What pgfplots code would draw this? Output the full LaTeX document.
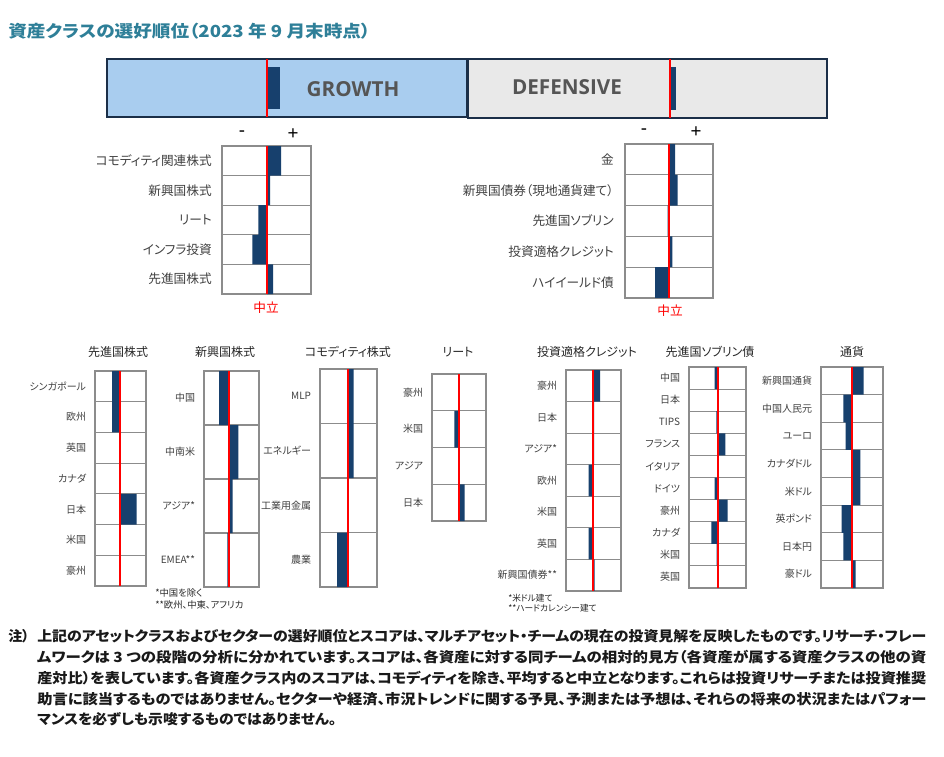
\documentclass[border=0pt]{standalone}
\usepackage{pgfplots}
\pgfplotsset{compat=1.18}
\usepackage{graphicx}
\usepackage{fontspec}
\setmainfont{Liberation Sans}
\newfontfamily\jp[RawFeature=+palt]{Noto Sans CJK JP}
\newfontfamily\osb{Open Sans}
\definecolor{navy}{HTML}{17406D}
\definecolor{growthblue}{HTML}{A9CDEF}
\definecolor{defgray}{HTML}{E9E9E9}
\definecolor{border}{HTML}{1B2F48}
\definecolor{gridgray}{HTML}{8C8C8C}
\definecolor{labelgray}{HTML}{404040}
\definecolor{titleteal}{HTML}{2E7F98}
\definecolor{boxtext}{HTML}{555555}
\newcommand\smlab{\jp\fontsize{7.5}{8}\selectfont}
\newcommand\midlab{\jp\fontsize{9.5}{10}\selectfont}
\pgfplotsset{
  panel/.style={
    scale only axis, anchor=north west, xbar, y dir=reverse, bar width=1,
    axis background/.style={fill=white},
    axis line style={draw=gridgray, line width=0.8pt},
    xtick=\empty,
    major tick length=0pt, minor tick length=0pt,
    yminorgrids=true, minor grid style={draw=gridgray, line width=0.8pt},
    yticklabel style={font=\smlab, text=labelgray, inner sep=0pt, xshift=-6.5pt},
  },
  topbox/.style={
    scale only axis, anchor=north west, xbar, bar width=0.72,
    axis line style={draw=border, line width=1.8pt},
    xtick=\empty, ytick=\empty, ymin=-0.5, ymax=0.5,
    major tick length=0pt,
  },
}
\begin{document}
\begin{tikzpicture}[x=0.75pt,y=0.75pt]
\useasboundingbox (0,0) rectangle (944,-756);

% title
\node[anchor=west, inner sep=0pt, text=titleteal] at (8,-31)
  {\resizebox{271.5pt}{\height}{\jp\bfseries\fontsize{12.5}{14}\selectfont 資産クラスの選好順位（2023 年 9 月末時点）}};

% ---------- top boxes ----------
\begin{axis}[topbox, at={(80.25pt,-44.25pt)}, width=270pt, height=43.5pt,
  axis background/.style={fill=growthblue}, xmin=-160, xmax=200]
\addplot[fill=navy, draw=none] coordinates {(13,0)};
\draw[red, line width=1.5pt] (axis cs:0,-0.5) -- (axis cs:0,0.5);
\end{axis}
\begin{axis}[topbox, at={(351pt,-44.25pt)}, width=269.25pt, height=44.25pt,
  axis background/.style={fill=defgray}, xmin=-202, xmax=157]
\addplot[fill=navy, draw=none] coordinates {(6,0)};
\draw[red, line width=1.5pt] (axis cs:0,-0.5) -- (axis cs:0,0.5);
\end{axis}
\node[text=boxtext, font=\osb\bfseries\fontsize{15.5}{16}\selectfont] at (353,-89) {GROWTH};
\node[text=boxtext, font=\osb\bfseries\fontsize{15.5}{16}\selectfont] at (567,-87) {DEFENSIVE};

% ---------- middle panels ----------
\begin{axis}[panel, at={(166.5pt,-109.5pt)}, width=66.75pt, height=111pt,
  xmin=-45, xmax=44, ymin=-0.5, ymax=4.5, ytick={0,...,4}, minor ytick={0.5,1.5,2.5,3.5},
  yticklabel style={font=\midlab, xshift=-1pt},
  yticklabels={コモディティ関連株式,新興国株式,リート,インフラ投資,先進国株式}]
\addplot[fill=navy, draw=none] coordinates {(14,0) (3,1) (-8.7,2) (-14.7,3) (6,4)};
\draw[red, line width=1.9pt] (axis cs:0,-0.5) -- (axis cs:0,4.5);
\end{axis}
\node[font=\fontsize{14}{15}\selectfont] at (242,-134) {-};
\node[font=\fontsize{14}{15}\selectfont] at (293,-134) {+};
\node[text=red, font=\jp\fontsize{9.5}{10}\selectfont] at (266,-308) {中立};

\begin{axis}[panel, at={(468.75pt,-108pt)}, width=66pt, height=115.5pt,
  xmin=-44, xmax=44, ymin=-0.5, ymax=4.5, ytick={0,...,4}, minor ytick={0.5,1.5,2.5,3.5},
  yticklabel style={font=\midlab, xshift=-1.75pt},
  yticklabels={金,新興国債券（現地通貨建て）,先進国ソブリン,投資適格クレジット,ハイイールド債}]
\addplot[fill=navy, draw=none] coordinates {(6,0) (8.7,1) (-1.5,2) (3.3,3) (-14,4)};
\draw[red, line width=1.9pt] (axis cs:0,-0.5) -- (axis cs:0,4.5);
\end{axis}
\node[font=\fontsize{14}{15}\selectfont] at (644,-132) {-};
\node[font=\fontsize{14}{15}\selectfont] at (696,-132) {+};
\node[text=red, font=\jp\fontsize{9.5}{10}\selectfont] at (670,-311) {中立};

% ---------- bottom panel titles ----------
\foreach \x/\t in {118/先進国株式, 225/新興国株式, 348/コモディティ株式, 458/リート,
                   587/投資適格クレジット, 710/先進国ソブリン債, 852/通貨}
  \node[text=black!85, font=\jp\fontsize{9}{10}\selectfont] at (\x,-352) {\t};

% 先進国株式
\begin{axis}[panel, at={(71.25pt,-278.25pt)}, width=38.25pt, height=161.25pt,
  xmin=-25, xmax=26, ymin=-0.5, ymax=6.5, ytick={0,...,6}, minor ytick={0.5,1.5,...,5.5},
  yticklabels={シンガポール,欧州,英国,カナダ,日本,米国,豪州}]
\addplot[fill=navy, draw=none] coordinates {(-8,0) (-8,1) (0,2) (0,3) (16.7,4) (0,5) (0,6)};
\draw[red, line width=1.5pt] (axis cs:0,-0.5) -- (axis cs:0,6.5);
\end{axis}

% 新興国株式
\begin{axis}[panel, at={(153pt,-278.25pt)}, width=41.25pt, height=162pt,
  xmin=-25, xmax=30, ymin=-0.5, ymax=3.5, ytick={0,...,3}, minor ytick={0.5,1.5,2.5},
  yticklabels={中国,中南米,アジア*,EMEA**}]
\addplot[fill=navy, draw=none] coordinates {(-10,0) (9.3,1) (3.7,2) (-1.7,3)};
\draw[red, line width=1.5pt] (axis cs:0,-0.5) -- (axis cs:0,3.5);
\end{axis}
\node[anchor=west, inner sep=0pt, text=black!85, font=\jp\fontsize{7}{8}\selectfont] at (155,-593) {*中国を除く};
\node[anchor=west, inner sep=0pt, text=black!85, font=\jp\fontsize{7}{8}\selectfont] at (155,-605) {**欧州、中東、アフリカ};

% コモディティ株式
\begin{axis}[panel, at={(240pt,-276.75pt)}, width=42.75pt, height=163.5pt,
  xmin=-28, xmax=29, ymin=-0.5, ymax=3.5, ytick={0,...,3}, minor ytick={0.5,1.5,2.5},
  yticklabels={MLP,エネルギー,工業用金属,農業}]
\addplot[fill=navy, draw=none] coordinates {(5.7,0) (5.7,1) (0,2) (-11,3)};
\draw[red, line width=1.5pt] (axis cs:0,-0.5) -- (axis cs:0,3.5);
\end{axis}

% リート
\begin{axis}[panel, at={(324pt,-280.5pt)}, width=40.5pt, height=110.25pt,
  xmin=-27, xmax=27, ymin=-0.5, ymax=3.5, ytick={0,...,3}, minor ytick={0.5,1.5,2.5},
  yticklabels={豪州,米国,アジア,日本}]
\addplot[fill=navy, draw=none] coordinates {(0,0) (-4.7,1) (0,2) (5.7,3)};
\draw[red, line width=1.5pt] (axis cs:0,-0.5) -- (axis cs:0,3.5);
\end{axis}

% 投資適格クレジット
\begin{axis}[panel, at={(424.5pt,-277.5pt)}, width=41.25pt, height=165.75pt,
  xmin=-27, xmax=28, ymin=-0.5, ymax=6.5, ytick={0,...,6}, minor ytick={0.5,1.5,...,5.5},
  yticklabels={豪州,日本,アジア*,欧州,米国,英国,新興国債券**}]
\addplot[fill=navy, draw=none] coordinates {(7,0) (1,1) (1,2) (-4.3,3) (0,4) (-4.3,5) (1.5,6)};
\draw[red, line width=1.5pt] (axis cs:0,-0.5) -- (axis cs:0,6.5);
\end{axis}
\node[anchor=west, inner sep=0pt, text=black!85, font=\jp\fontsize{6.5}{7}\selectfont] at (508,-598) {*米ドル建て};
\node[anchor=west, inner sep=0pt, text=black!85, font=\jp\fontsize{6.5}{7}\selectfont] at (508,-608) {**ハードカレンシー建て};

% 先進国ソブリン債
\begin{axis}[panel, at={(516.75pt,-275.25pt)}, width=42.75pt, height=165.75pt,
  xmin=-29, xmax=28, ymin=-0.5, ymax=9.5, ytick={0,...,9}, minor ytick={0.5,1.5,...,8.5},
  yticklabels={中国,日本,TIPS,フランス,イタリア,ドイツ,豪州,カナダ,米国,英国}]
\addplot[fill=navy, draw=none] coordinates {(-3.3,0) (0,1) (-1.7,2) (7.3,3) (0,4) (-3.3,5) (9.7,6) (-6.7,7) (-1.3,8) (0,9)};
\draw[red, line width=1.5pt] (axis cs:0,-0.5) -- (axis cs:0,9.5);
\end{axis}

% 通貨
\begin{axis}[panel, at={(615.75pt,-275.25pt)}, width=46.5pt, height=165.75pt,
  xmin=-31, xmax=31, ymin=-0.5, ymax=7.5, ytick={0,...,7}, minor ytick={0.5,1.5,...,6.5},
  yticklabels={新興国通貨,中国人民元,ユーロ,カナダドル,米ドル,英ポンド,日本円,豪ドル}]
\addplot[fill=navy, draw=none] coordinates {(11.7,0) (-8.7,1) (-6.3,2) (8.3,3) (8.3,4) (-10.3,5) (-8.7,6) (3.7,7)};
\draw[red, line width=1.5pt] (axis cs:0,-0.5) -- (axis cs:0,7.5);
\end{axis}

% ---------- note ----------
\begin{scope}[every node/.style={anchor=west, inner sep=0pt, text=black!90, font=\jp\bfseries\fontsize{10.5}{12}\selectfont}]
\node at (8,-636) {注）};
\node at (37,-636) {\resizebox{666.75pt}{\height}{上記のアセットクラスおよびセクターの選好順位とスコアは、マルチアセット・チームの現在の投資見解を反映したものです。リサーチ・フレー}};
\node at (37,-657) {\resizebox{666.75pt}{\height}{ムワークは 3 つの段階の分析に分かれています。スコアは、各資産に対する同チームの相対的見方（各資産が属する資産クラスの他の資}};
\node at (37,-678) {\resizebox{666.75pt}{\height}{産対比）を表しています。各資産クラス内のスコアは、コモディティを除き、平均すると中立となります。これらは投資リサーチまたは投資推奨}};
\node at (37,-699) {\resizebox{666.75pt}{\height}{助言に該当するものではありません。セクターや経済、市況トレンドに関する予見、予測または予想は、それらの将来の状況またはパフォー}};
\node at (37,-719) {\resizebox{224.25pt}{\height}{マンスを必ずしも示唆するものではありません。}};
\end{scope}
\end{tikzpicture}
\end{document}
